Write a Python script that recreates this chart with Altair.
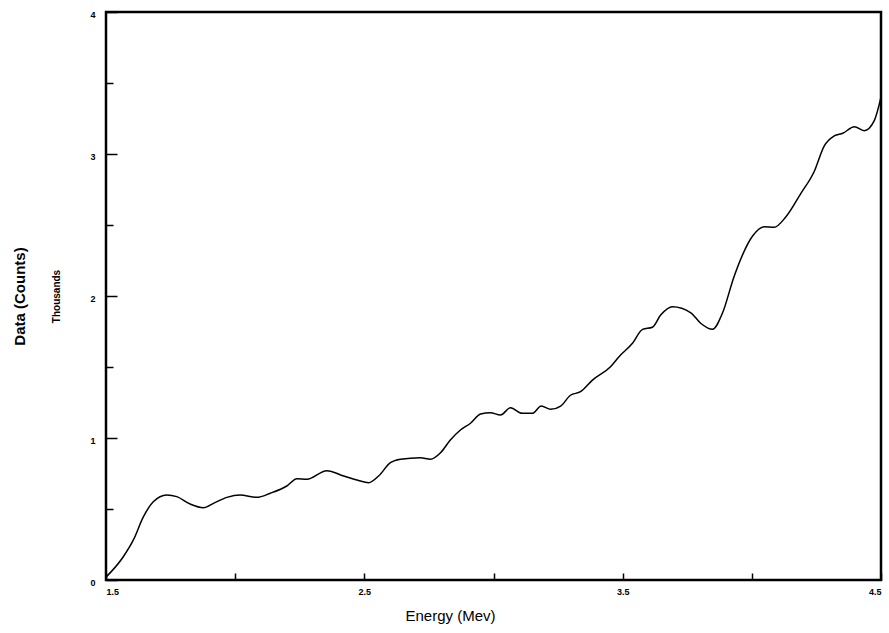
import altair as alt
import pandas as pd

energy = [1.500, 1.567, 1.606, 1.645, 1.683, 1.735, 1.774, 1.826, 1.877, 1.916,
          1.968, 2.019, 2.084, 2.136, 2.200, 2.239, 2.278, 2.355, 2.420, 2.472,
          2.517, 2.555, 2.601, 2.640, 2.717, 2.756, 2.795, 2.833, 2.872, 2.911,
          2.950, 2.988, 3.027, 3.066, 3.111, 3.150, 3.185, 3.221, 3.260, 3.298,
          3.337, 3.383, 3.453, 3.486, 3.538, 3.577, 3.615, 3.647, 3.693, 3.764,
          3.802, 3.848, 3.886, 3.931, 4.003, 4.048, 4.086, 4.132, 4.190, 4.241,
          4.280, 4.319, 4.352, 4.397, 4.435, 4.474, 4.500]
counts_k = [0.02, 0.164, 0.282, 0.446, 0.551, 0.599, 0.587, 0.535, 0.509, 0.540,
            0.582, 0.599, 0.582, 0.611, 0.662, 0.713, 0.709, 0.770, 0.732, 0.704,
            0.685, 0.732, 0.826, 0.850, 0.861, 0.850, 0.896, 0.986, 1.056, 1.104,
            1.169, 1.178, 1.162, 1.213, 1.174, 1.174, 1.225, 1.202, 1.225, 1.301,
            1.326, 1.408, 1.502, 1.573, 1.667, 1.765, 1.780, 1.866, 1.925, 1.882,
            1.808, 1.765, 1.878, 2.136, 2.423, 2.488, 2.484, 2.558, 2.723, 2.875,
            3.056, 3.127, 3.146, 3.192, 3.164, 3.235, 3.400]

x_ticks = [1.5, 2.0, 2.5, 3.0, 3.5, 4.0, 4.5]
y_major = [0, 1, 2, 3, 4]
y_minor = [0.5, 1.5, 2.5, 3.5]

df = pd.DataFrame({"energy": energy, "counts": counts_k})

FONT = "Liberation Sans"

x_enc = alt.X(
    "energy:Q",
    scale=alt.Scale(domain=[1.5, 4.5], nice=False, zero=False),
    axis=alt.Axis(
        values=x_ticks,
        labelExpr="(datum.value == 1.5 || datum.value == 2.5 || datum.value == 3.5 || datum.value == 4.5) ? format(datum.value, '.1f') : ''",
        domain=False, grid=False, tickSize=7, offset=-7, tickColor="black", tickWidth=1.5,
        labelPadding=7, labelFont=FONT, labelFontWeight="bold", labelFontSize=9, labelColor="black",
        title="Energy (Mev)", titleFont=FONT, titleFontSize=15, titleFontWeight="normal",
        titleColor="black", titlePadding=12, titleX=344, titleAlign="center",
    ),
)

y_scale = alt.Scale(domain=[0, 4], nice=False)

major = alt.Chart(df).mark_line(color="black", strokeWidth=1.5, interpolate="monotone").encode(
    x=x_enc,
    y=alt.Y(
        "counts:Q", scale=y_scale,
        axis=alt.Axis(
            orient="left", values=y_major, format="d",
            domain=False, grid=False, tickSize=11, offset=-11, tickColor="black", tickWidth=1.5,
            labelPadding=11, labelOffset=2, labelFont=FONT, labelFontWeight="bold", labelFontSize=9,
            labelColor="black",
            title="Data (Counts)", titleFont=FONT, titleFontSize=15, titleFontWeight="bold",
            titleColor="black", titlePadding=62,
        ),
    ),
)

minor = alt.Chart(df).mark_line(strokeOpacity=0).encode(
    x=x_enc,
    y=alt.Y(
        "counts:Q", scale=y_scale,
        axis=alt.Axis(
            orient="left", values=y_minor, labels=False,
            domain=False, grid=False, tickSize=7, offset=-7, tickColor="black", tickWidth=1.5,
            title="Thousands", titleFont=FONT, titleFontSize=10, titleFontWeight="bold",
            titleColor="black", titlePadding=44,
        ),
    ),
)

chart = alt.layer(major, minor).resolve_axis(y="independent").properties(
    width=775, height=568,
    padding={"left": 106, "top": 12, "right": 8, "bottom": 53},
    autosize=alt.AutoSizeParams(type="none"),
    background="white",
).configure_view(stroke="black", strokeWidth=2.5)

chart.save("out.html", embed_options={"renderer": "svg", "actions": False})
